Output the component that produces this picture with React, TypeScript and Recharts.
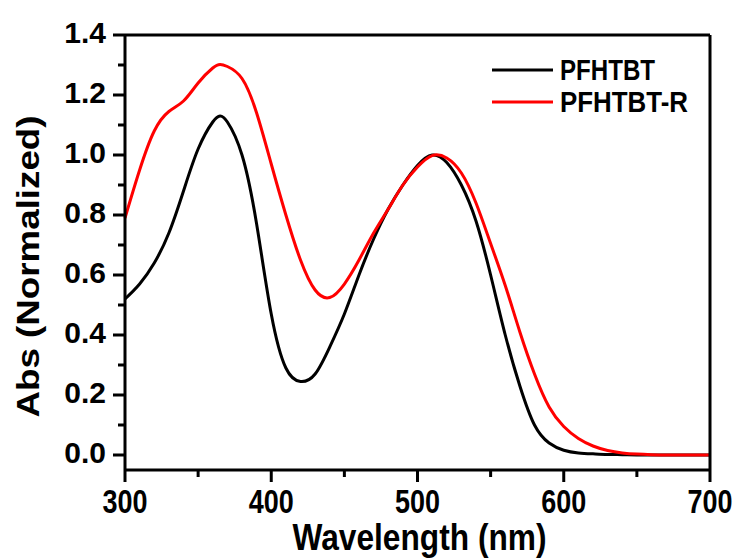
import React from 'react';
import { LineChart, Line, XAxis, YAxis, Legend } from 'recharts';

const FONT = '"Liberation Sans", Arial, Helvetica, sans-serif';

// wavelengths (nm) sampled off the figure
const wavelength = [
  300, 310, 320, 330, 340, 350, 360, 365, 370, 380, 390, 400, 410, 420, 430, 440, 450, 460, 470, 480, 490,
  500, 510, 520, 530, 540, 550, 560, 570, 580, 590, 600, 610, 620, 630, 640, 650, 660, 670, 680, 690, 700,
];

// PFHTBT (black)
const pfhtbt = [
  0.52, 0.57, 0.64, 0.74, 0.88, 1.02, 1.11, 1.13, 1.11, 1.0, 0.77, 0.47, 0.29, 0.245, 0.27, 0.36, 0.47, 0.6,
  0.72, 0.82, 0.9, 0.965, 1.0, 0.975, 0.9, 0.78, 0.6, 0.4, 0.23, 0.1, 0.04, 0.016, 0.007, 0.004, 0.002,
  0.001, 0, 0, 0, 0, 0, 0,
];

// PFHTBT-R (red)
const pfhtbtR = [
  0.79, 0.95, 1.08, 1.145, 1.18, 1.24, 1.29, 1.302, 1.295, 1.255, 1.14, 0.97, 0.8, 0.65, 0.55, 0.525, 0.57,
  0.65, 0.74, 0.82, 0.9, 0.96, 0.998, 0.99, 0.94, 0.84, 0.705, 0.565, 0.41, 0.27, 0.16, 0.095, 0.055, 0.03,
  0.015, 0.007, 0.003, 0.001, 0, 0, 0, 0,
];

const xTicks = [300, 350, 400, 450, 500, 550, 600, 650, 700];
const yTicks = [0, 0.1, 0.2, 0.3, 0.4, 0.5, 0.6, 0.7, 0.8, 0.9, 1.0, 1.1, 1.2, 1.3, 1.4];

const data = wavelength.map((w, i) => ({ w, a: pfhtbt[i], b: pfhtbtR[i] }));

const LeftTick = (props: any) => {
  const { x, y, payload } = props;
  const v = payload.value as number;
  const major = Math.round(v * 10) % 2 === 0;
  return (
    <g>
      <line x1={x} x2={x - (major ? 12 : 7)} y1={y} y2={y} stroke="#000" strokeWidth={3} />
      {major && (
        <text x={x - 19} y={y + 8} textAnchor="end" fontSize={30} fontWeight="bold" fontFamily={FONT} fill="#000">
          {v.toFixed(1)}
        </text>
      )}
    </g>
  );
};

const RightTick = (props: any) => {
  const { x, y } = props;
  return <line x1={x} x2={x + 3} y1={y} y2={y} stroke="#000" strokeWidth={2} />;
};

const BottomTick = (props: any) => {
  const { x, y, payload } = props;
  const v = payload.value as number;
  const major = v % 100 === 0;
  return (
    <g>
      <line x1={x} x2={x} y1={y} y2={y + (major ? 12 : 7)} stroke="#000" strokeWidth={3} />
      {major && (
        <text
          x={x}
          y={y + 43}
          textAnchor="middle"
          fontSize={34}
          fontWeight="bold"
          fontFamily={FONT}
          textLength={45}
          lengthAdjust="spacingAndGlyphs"
          fill="#000"
        >
          {v}
        </text>
      )}
    </g>
  );
};

const XTitle = (props: any) => {
  const vb = props.viewBox || {};
  const cx = vb.x + vb.width / 2 + 2;
  return (
    <text
      x={cx}
      y={550}
      textAnchor="middle"
      fontSize={36}
      fontWeight="bold"
      fontFamily={FONT}
      textLength={254}
      lengthAdjust="spacingAndGlyphs"
      fill="#000"
    >
      Wavelength (nm)
    </text>
  );
};

const YTitle = (props: any) => {
  const vb = props.viewBox || {};
  const cx = 39;
  const cy = vb.y + vb.height / 2 + 14;
  return (
    <text
      x={cx}
      y={cy}
      transform={`rotate(-90, ${cx}, ${cy})`}
      textAnchor="middle"
      fontSize={32}
      fontWeight="bold"
      fontFamily={FONT}
      textLength={302}
      lengthAdjust="spacingAndGlyphs"
      fill="#000"
    >
      Abs (Normalized)
    </text>
  );
};

const legendWidths: Record<string, number> = { PFHTBT: 95, 'PFHTBT-R': 128 };

const LegendBox = ({ payload }: any) => (
  <svg width={240} height={64} style={{ overflow: 'visible' }}>
    {(payload || []).map((p: any, i: number) => (
      <g key={p.value}>
        <line x1={0} x2={61} y1={12 + i * 32} y2={12 + i * 32} stroke={p.color} strokeWidth={3} />
        <text
          x={68}
          y={12 + i * 32 + 10}
          fontSize={29}
          fontWeight="bold"
          fontFamily={FONT}
          textLength={legendWidths[p.value]}
          lengthAdjust="spacingAndGlyphs"
          fill="#000"
        >
          {p.value}
        </text>
      </g>
    ))}
  </svg>
);

export default function App() {
  return (
    <div style={{ position: 'absolute', left: 0, top: 0, width: 746, height: 560, background: '#fff' }}>
      <LineChart width={746} height={560} data={data} margin={{ top: 0, right: 0, bottom: 0, left: 0 }}>
        <XAxis
          dataKey="w"
          type="number"
          domain={[300, 700]}
          ticks={xTicks}
          interval={0}
          height={90}
          tickSize={0}
          tickMargin={0}
          tickLine={false}
          axisLine={{ stroke: '#000', strokeWidth: 3 }}
          tick={<BottomTick />}
          label={<XTitle />}
        />
        <XAxis
          xAxisId="top"
          orientation="top"
          type="number"
          domain={[300, 700]}
          height={35}
          tick={false}
          tickLine={false}
          axisLine={{ stroke: '#000', strokeWidth: 3 }}
        />
        <YAxis
          type="number"
          domain={[-0.05, 1.4]}
          ticks={yTicks}
          interval={0}
          width={125}
          tickSize={0}
          tickMargin={0}
          tickLine={false}
          axisLine={{ stroke: '#000', strokeWidth: 3 }}
          tick={<LeftTick />}
          label={<YTitle />}
        />
        <YAxis
          yAxisId="right"
          orientation="right"
          type="number"
          domain={[-0.05, 1.4]}
          ticks={yTicks}
          interval={0}
          width={36}
          tickSize={0}
          tickMargin={0}
          tickLine={false}
          axisLine={{ stroke: '#000', strokeWidth: 3 }}
          tick={<RightTick />}
        />
        <Legend
          layout="horizontal"
          verticalAlign="middle"
          align="center"
          content={<LegendBox />}
          wrapperStyle={{ position: 'absolute', left: 492, top: 58, width: 240, height: 64 }}
        />
        <Line
          type="natural"
          dataKey="a"
          name="PFHTBT"
          stroke="#000000"
          strokeWidth={3}
          dot={false}
          activeDot={false}
          isAnimationActive={false}
        />
        <Line
          type="natural"
          dataKey="b"
          name="PFHTBT-R"
          stroke="#ff0000"
          strokeWidth={3}
          dot={false}
          activeDot={false}
          isAnimationActive={false}
        />
      </LineChart>
    </div>
  );
}
